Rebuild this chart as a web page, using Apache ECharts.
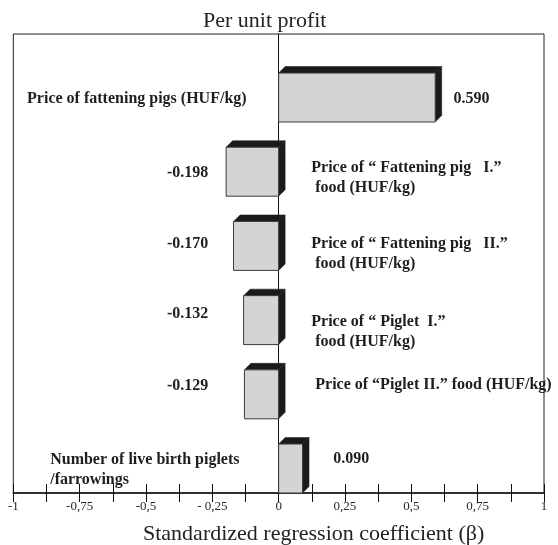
<!DOCTYPE html>
<html>
<head>
<meta charset="utf-8">
<script src="https://cdn.jsdelivr.net/npm/echarts@6/dist/echarts.min.js"></script>
<style>
  html, body { margin: 0; padding: 0; background: #fff; }
  #chart { width: 558px; height: 545px; }
</style>
</head>
<body>
<div id="chart"></div>
<script>
// ---- data ----
const categories = [
  'Price of fattening pigs (HUF/kg)',
  'Price of \u201c Fattening pig   I.\u201d\n food (HUF/kg)',
  'Price of \u201c Fattening pig   II.\u201d\n food (HUF/kg)',
  'Price of \u201c Piglet  I.\u201d\n food (HUF/kg)',
  'Price of \u201cPiglet II.\u201d food (HUF/kg)',
  'Number of live birth piglets\n/farrowings'
];
const values = [0.590, -0.198, -0.170, -0.132, -0.129, 0.090];
const tickLabels = ['-1', '-0,75', '-0,5', '- 0,25', '0', '0,25', '0,5', '0,75', '1'];
const titleText = 'Per unit profit';
const axisTitle = 'Standardized regression coefficient (\u03b2)';

// ---- layout (label anchors in axis units, vertical pixel nudges) ----
const catLayout = [
  { x: -0.948, align: 'left', dy: 1 },
  { x: 0.123, align: 'left', dy: 6 },
  { x: 0.123, align: 'left', dy: 8 },
  { x: 0.123, align: 'left', dy: 12 },
  { x: 0.138, align: 'left', dy: -9 },
  { x: -0.861, align: 'left', dy: 1 }
];
const valLayout = [
  { x: 0.659, align: 'left', dy: 1 },
  { x: -0.265, align: 'right', dy: 1 },
  { x: -0.265, align: 'right', dy: -2 },
  { x: -0.265, align: 'right', dy: -6 },
  { x: -0.265, align: 'right', dy: -8 },
  { x: 0.206, align: 'left', dy: -10 }
];

const n = categories.length;
const thick = 0.66;
const depth = 6.5;
const serif = "'Liberation Serif', 'Times New Roman', serif";

const seriesData = values.map((v, i) => [v, n - 1 - i, i]);

const chart = echarts.init(document.getElementById('chart'), null, { renderer: 'canvas' });

function renderItem(params, api) {
  const v = api.value(0);
  const row = api.value(1);
  const idx = api.value(2);
  const a = api.coord([0, row]);
  const b = api.coord([v, row + thick]);
  const left = Math.min(a[0], b[0]);
  const right = Math.max(a[0], b[0]);
  const bottom = a[1];
  const top = b[1];
  const mid = (top + bottom) / 2;
  const d = depth;
  const cl = catLayout[idx];
  const vl = valLayout[idx];
  const cx = api.coord([cl.x, row])[0];
  const vx = api.coord([vl.x, row])[0];
  return {
    type: 'group',
    children: [
      {
        type: 'polygon',
        shape: { points: [[left, top], [left + d, top - d], [right + d, top - d], [right, top]] },
        style: { fill: '#1b1b1b', stroke: '#1b1b1b', lineWidth: 0.5 }
      },
      {
        type: 'polygon',
        shape: { points: [[right, top], [right + d, top - d], [right + d, bottom - d], [right, bottom]] },
        style: { fill: '#1b1b1b', stroke: '#1b1b1b', lineWidth: 0.5 }
      },
      {
        type: 'rect',
        shape: { x: left, y: top, width: right - left, height: bottom - top },
        style: { fill: '#d4d4d4', stroke: '#3a3a3a', lineWidth: 1 }
      },
      {
        type: 'text',
        style: {
          text: values[idx].toFixed(3),
          x: vx, y: mid + vl.dy,
          align: vl.align, verticalAlign: 'middle',
          fill: '#1e1e1e',
          font: 'bold 16px ' + serif
        }
      },
      {
        type: 'text',
        style: {
          text: categories[idx],
          x: cx, y: mid + cl.dy,
          align: cl.align, verticalAlign: 'middle',
          lineHeight: 20,
          fill: '#1e1e1e',
          font: 'bold 16px ' + serif
        }
      }
    ]
  };
}

function tickFmt(v) {
  const k = Math.round((v + 1) / 0.25 * 1000) / 1000;
  return Number.isInteger(k) ? tickLabels[k] : '';
}

const option = {
  animation: false,
  backgroundColor: '#fff',
  grid: {
    left: 13.3, right: 14, top: 34, bottom: 52,
    show: true, borderColor: '#222', borderWidth: 1, backgroundColor: 'transparent'
  },
  xAxis: [
    {
      type: 'value', min: -1, max: 1, interval: 0.125, position: 'bottom',
      axisLine: { show: true, onZero: false, lineStyle: { color: '#111', width: 1.5 } },
      axisTick: { show: true, inside: false, length: 9, lineStyle: { color: '#111', width: 1 } },
      axisLabel: {
        show: true, margin: 7, formatter: tickFmt,
        fontFamily: serif, fontSize: 13, color: '#2a2a2a'
      },
      splitLine: { show: false }
    },
    {
      type: 'value', min: -1, max: 1, interval: 0.125, position: 'bottom',
      axisLine: { show: false, onZero: false },
      axisTick: { show: true, inside: true, length: 9, lineStyle: { color: '#111', width: 1 } },
      axisLabel: { show: false },
      splitLine: { show: false }
    }
  ],
  yAxis: {
    type: 'value', min: 0, max: 6.186,
    axisLine: { show: true, onZero: true, onZeroAxisIndex: 0, lineStyle: { color: '#111', width: 1 } },
    axisTick: { show: false },
    axisLabel: { show: false },
    splitLine: { show: false }
  },
  graphic: [
    {
      type: 'text', left: 203, top: 10,
      style: { text: titleText, font: '22px ' + serif, fill: '#222' }
    },
    {
      type: 'text', left: 143, top: 523,
      style: { text: axisTitle, font: '22px ' + serif, fill: '#222' }
    }
  ],
  series: [
    {
      type: 'custom',
      xAxisIndex: 0, yAxisIndex: 0,
      clip: false,
      renderItem: renderItem,
      encode: { x: 0, y: 1 },
      data: seriesData
    }
  ]
};
chart.setOption(option);
</script>
</body>
</html>
